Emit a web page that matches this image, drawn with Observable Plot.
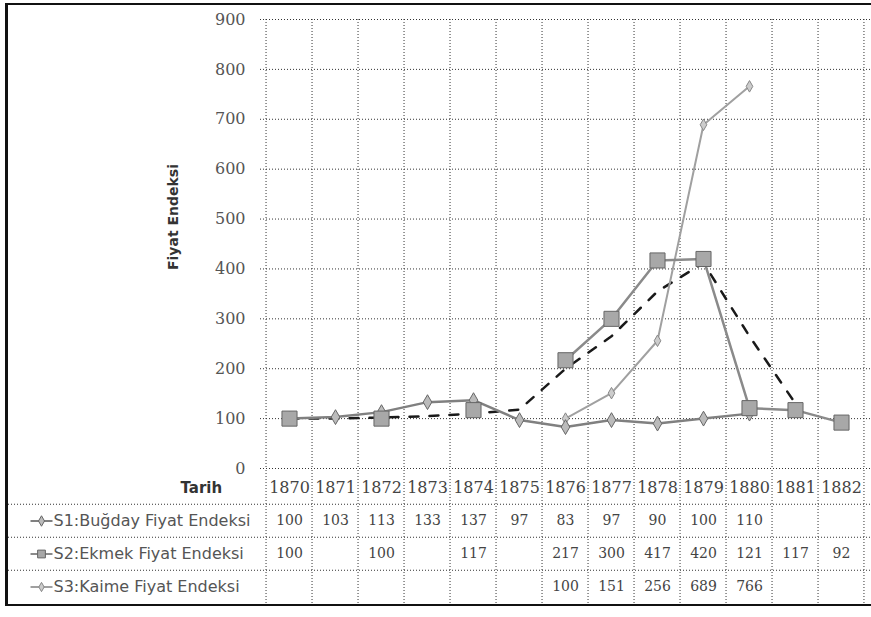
<!DOCTYPE html>
<html><head><meta charset="utf-8">
<script src="https://cdn.jsdelivr.net/npm/d3@7"></script>
<script src="https://cdn.jsdelivr.net/npm/@observablehq/plot@0.6"></script>
<style>
html,body{margin:0;padding:0;background:#fff;}
#wrap{position:relative;width:871px;height:617px;overflow:hidden;background:#fff;}
#wrap svg{position:absolute;left:0;}
.bar{position:absolute;background:#111;}
</style></head><body><div id="wrap"></div>
<script>
const years = ["1870","1871","1872","1873","1874","1875","1876","1877","1878","1879","1880","1881","1882"];
const bugday = [100,103,113,133,137,97,83,97,90,100,110,null,null];
const ekmek  = [100,null,100,null,117,null,217,300,417,420,121,117,92];
const kaime  = [null,null,null,null,null,null,100,151,256,689,766,null,null];
const egilim = [100,100,102,105,110,118,200,265,355,412,265,130,null];
const seriesKeys = ["S1","S2","S3"];
const seriesNames = ["S1:Buğday Fiyat Endeksi","S2:Ekmek Fiyat Endeksi","S3:Kaime Fiyat Endeksi"];
const yTicks = [0,100,200,300,400,500,600,700,800,900];
const yTitle = "Fiyat Endeksi";
const xTitle = "Tarih";

const seriesValues = [bugday, ekmek, kaime];
const rows = seriesValues.flatMap((vals, si) => years.map((yr, i) => ({year: yr, value: vals[i], key: seriesKeys[si]})));
const trendRows = years.map((yr, i) => ({year: yr, value: egilim[i]}));
const defined = rows.filter(d => d.value != null);

const look = {
  S1: {stroke: "#808080", width: 2.5, symbol: "diamond", r: 4.5, fill: "#bbb", mstroke: "#666"},
  S2: {stroke: "#8a8a8a", width: 2.5, symbol: "square", r: 8.5, fill: "#a8a8a8", mstroke: "#666"},
  S3: {stroke: "#a0a0a0", width: 2, symbol: "diamond", r: 3.5, fill: "#ccc", mstroke: "#888"}
};
const bw = (870 - 260) / years.length;
const grid = {stroke: "#333", strokeDasharray: "1,2", strokeWidth: 1};
const serif = "DejaVu Serif";
const sans = "DejaVu Sans";

const seriesMarks = [];
for (const k of ["S3", "S2", "S1"]) {
  const L = look[k];
  seriesMarks.push(Plot.line(rows.filter(d => d.key === k), {x: "year", y: "value", stroke: L.stroke, strokeWidth: L.width}));
}
for (const k of ["S3", "S1", "S2"]) {
  const L = look[k];
  seriesMarks.push(Plot.dot(defined.filter(d => d.key === k), {x: "year", y: "value", symbol: L.symbol, r: L.r, fill: L.fill, stroke: L.mstroke, strokeWidth: 1}));
}

const chart = Plot.plot({
  width: 871, height: 478,
  marginLeft: 260, marginRight: 1, marginTop: 19, marginBottom: 10,
  style: {background: "none", overflow: "visible"},
  x: {type: "band", domain: years, padding: 0, axis: null},
  y: {domain: [0, 900], axis: null},
  marks: [
    Plot.ruleY(yTicks, {y: d => d, ...grid}),
    Plot.ruleX(years, {x: d => d, dx: -bw / 2, ...grid}),
    Plot.ruleX([years[years.length - 1]], {x: d => d, dx: bw / 2 - 1, ...grid}),
    Plot.text(yTicks, {y: d => d, text: d => String(d), frameAnchor: "left", dx: -15, textAnchor: "end", fontFamily: serif, fontSize: 16, fill: "#555"}),
    Plot.text([yTitle], {text: d => d, frameAnchor: "left", dx: -87, dy: 26, rotate: -90, fontFamily: sans, fontWeight: "bold", fontSize: 14, fill: "#333"}),
    Plot.line(trendRows, {x: "year", y: "value", stroke: "#1a1a1a", strokeWidth: 2.5, strokeDasharray: "9,11"}),
    ...seriesMarks
  ]
});

const rowKeys = ["head", ...seriesKeys];
const lineSym = {draw(ctx) { ctx.moveTo(-11, 0); ctx.lineTo(11, 0); }};
const table = Plot.plot({
  width: 871, height: 149,
  marginLeft: 8, marginRight: 1, marginTop: 2, marginBottom: 13,
  style: {background: "none", overflow: "visible"},
  x: {type: "band", domain: years, range: [260, 870], padding: 0, axis: null},
  y: {type: "band", domain: rowKeys, padding: 0, axis: null},
  marks: [
    Plot.ruleX(years, {x: d => d, dx: -bw / 2, ...grid}),
    Plot.ruleX([years[years.length - 1]], {x: d => d, dx: bw / 2 - 1, ...grid}),
    Plot.ruleY(seriesKeys, {y: d => d, dy: -134 / 8, ...grid}),
    Plot.text(years, {x: d => d, y: () => "head", text: d => d, fontFamily: serif, fontSize: 16, fill: "#444"}),
    Plot.text(defined, {x: "year", y: "key", text: d => String(d.value), fontFamily: serif, fontSize: 14, fill: "#444"}),
    Plot.text([xTitle], {y: () => "head", text: d => d, frameAnchor: "left", dx: 172, fontFamily: sans, fontWeight: "bold", fontSize: 15, fill: "#333"}),
    Plot.text(seriesNames, {y: (d, i) => seriesKeys[i], text: d => d, frameAnchor: "left", dx: 45, textAnchor: "start", fontFamily: sans, fontSize: 16, fill: "#555"}),
    Plot.dot(seriesKeys, {y: d => d, frameAnchor: "left", dx: 33, symbol: lineSym, stroke: d => look[d].stroke, strokeWidth: 2}),
    Plot.dot(seriesKeys, {y: d => d, frameAnchor: "left", dx: 33, symbol: d => look[d].symbol, r: d => look[d].r * 0.75, fill: d => look[d].fill, stroke: d => look[d].mstroke, strokeWidth: 1})
  ]
});

const wrap = document.getElementById("wrap");
table.style.top = "468px";
chart.style.top = "0px";
wrap.appendChild(table);
wrap.appendChild(chart);
for (const [l, t, w, h] of [[5, 3, 3, 603], [5, 3, 866, 2], [5, 604, 866, 2]]) {
  const b = document.createElement("div");
  b.className = "bar";
  Object.assign(b.style, {left: l + "px", top: t + "px", width: w + "px", height: h + "px"});
  wrap.appendChild(b);
}
</script></body></html>
